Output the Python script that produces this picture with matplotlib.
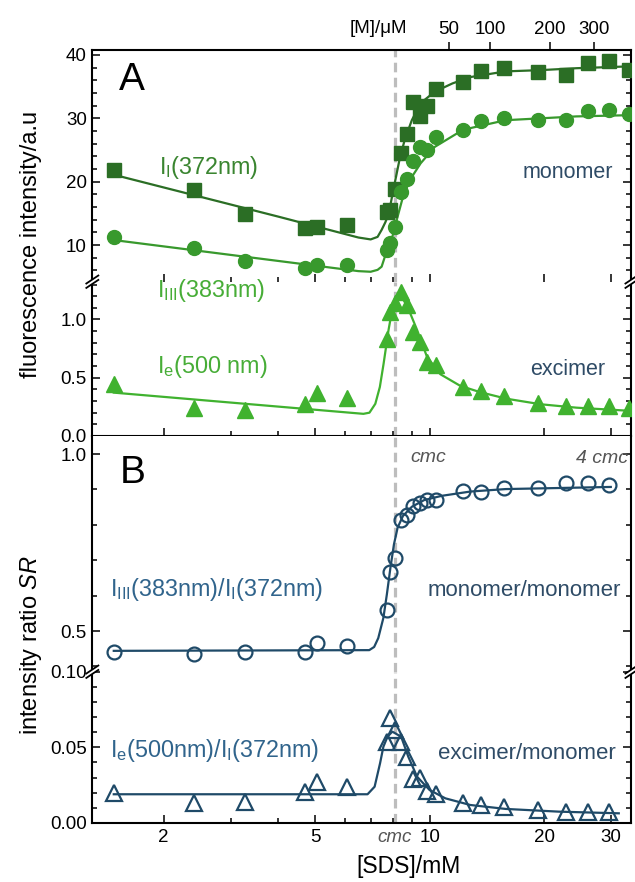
import matplotlib
matplotlib.use("Agg")
import matplotlib.pyplot as plt
from matplotlib.ticker import FixedLocator, LogLocator, MultipleLocator, NullFormatter, NullLocator
from matplotlib.lines import Line2D
from matplotlib.patches import Polygon

plt.rcParams['font.family'] = ['Liberation Sans', 'DejaVu Sans']
plt.rcParams['mathtext.fontset'] = 'custom'
plt.rcParams['mathtext.rm'] = 'Liberation Sans'
plt.rcParams['mathtext.it'] = 'Liberation Sans:italic'
plt.rcParams['mathtext.bf'] = 'Liberation Sans:bold'

# [SDS]/mM of every measurement
sds = [1.48, 2.41, 3.27, 4.72, 5.06, 6.07, 7.73, 7.88, 8.10, 8.42, 8.73, 9.07,
       9.45, 9.82, 10.42, 12.24, 13.62, 15.70, 19.32, 22.83, 26.11, 29.63, 33.5]

# panel A: fluorescence intensities (a.u.)
I1 = [21.8, 18.7, 14.9, 12.7, 12.8, 13.1, 15.3, 15.6, 18.8, 24.5, 27.6, 32.5,
      30.3, 32.0, 34.6, 35.8, 37.5, 37.9, 37.3, 36.9, 38.7, 39.0, 37.6]
I3 = [11.3, 9.5, 7.55, 6.34, 6.86, 6.86, 9.2, 10.3, 12.9, 18.3, 20.5, 23.2,
      25.5, 25.0, 27.1, 28.2, 29.6, 30.1, 29.7, 29.7, 31.1, 31.3, 30.6]
Ie = [0.443, 0.243, 0.221, 0.272, 0.372, 0.329, 0.836, 1.065, 1.14, 1.238, 1.12, 0.89,
      0.81, 0.635, 0.606, 0.42, 0.39, 0.347, 0.286, 0.258, 0.258, 0.258, 0.243]

# panel B: intensity ratios (first 22 concentrations)
r31 = [0.441, 0.436, 0.441, 0.441, 0.466, 0.459, 0.558, 0.668, 0.707, 0.814, 0.827,
       0.854, 0.863, 0.871, 0.871, 0.896, 0.893, 0.904, 0.904, 0.917, 0.917, 0.912]
re1 = [0.0196, 0.0130, 0.0137, 0.0207, 0.0269, 0.0240, 0.0537, 0.0692, 0.0615, 0.0537,
       0.0438, 0.0289, 0.0295, 0.0214, 0.0192, 0.0134, 0.0119, 0.0104, 0.0086, 0.0075,
       0.0075, 0.0075]

# fitted curves
fit1_x = [1.48, 4.0, 6.5, 7.0, 7.3, 7.48, 7.65, 7.81, 8.06, 8.33, 8.60, 8.98, 9.47,
          10.32, 11.48, 12.79, 15.84, 19.63, 24.3, 33.9]
fit1_y = [21.1, 14.5, 11.2, 10.9, 11.3, 12.4, 13.6, 15.0, 19.2, 23.4, 26.6, 29.7, 32.4,
          34.2, 35.5, 36.5, 37.4, 37.6, 37.9, 38.2]
fit3_x = [1.48, 6.5, 7.0, 7.3, 7.48, 7.68, 7.98, 8.24, 8.51, 8.88, 9.47, 10.32, 12.25,
          15.84, 24.3, 33.9]
fit3_y = [10.8, 5.9, 5.8, 6.1, 6.6, 8.7, 11.3, 14.5, 17.6, 20.3, 22.9, 25.5, 28.2,
          29.7, 30.3, 30.5]
fite_x = [1.48, 6.7, 6.95, 7.2, 7.4, 7.57, 7.8, 7.97, 8.15, 8.38, 8.6, 8.9, 9.27, 9.84,
          10.67, 12.04, 13.58, 15.9, 19.6, 24.3, 33.9]
fite_y = [0.372, 0.19, 0.20, 0.276, 0.42, 0.62, 0.91, 1.08, 1.17, 1.21, 1.15, 1.05, 0.91,
          0.68, 0.53, 0.43, 0.376, 0.32, 0.272, 0.243, 0.215]
fitr31_x = [1.48, 6.94, 7.15, 7.33, 7.56, 7.72, 7.89, 8.06, 8.24, 8.51, 8.98, 9.68,
            10.77, 12.79, 15.84, 21.85, 29.92]
fitr31_y = [0.444, 0.446, 0.455, 0.48, 0.537, 0.603, 0.679, 0.745, 0.792, 0.825, 0.851,
            0.87, 0.882, 0.894, 0.901, 0.904, 0.907]
fitre1_x = [1.48, 6.87, 7.17, 7.41, 7.56, 7.75, 7.98, 8.42, 8.79, 9.27, 10.0, 11.0,
            12.79, 15.84, 21.85, 31.4]
fitre1_y = [0.019, 0.019, 0.024, 0.0395, 0.0504, 0.057, 0.0604, 0.057, 0.0438, 0.0306,
            0.0218, 0.0163, 0.0119, 0.0093, 0.0075, 0.0064]

cmc = 8.1            # mM
mM_per_uM = 0.063    # [SDS] step per uM micelles
M_ticks = [50, 100, 200, 300]
sds_ticks = [2, 5, 10, 20, 30]

c_sq = '#2b6e25'
c_ci = '#38992d'
c_tr = '#40b22f'
c_bl = '#1f4a68'
c_txt = '#2e4b66'
c_cmc = '#555555'

fig = plt.figure(figsize=(6.35, 8.82), dpi=100)
L, W = 0.1454, 0.849
axA1 = fig.add_axes([L, 0.6806, W, 0.2627])
axA2 = fig.add_axes([L, 0.5057, W, 0.1749])
axB1 = fig.add_axes([L, 0.2384, W, 0.2673])
axB2 = fig.add_axes([L, 0.0669, W, 0.1715])

for ax in (axA1, axA2, axB1, axB2):
    ax.set_xscale('log')
    ax.set_xlim(1.30, 33.9)
    ax.xaxis.set_major_locator(FixedLocator(sds_ticks))
    ax.xaxis.set_minor_locator(LogLocator(base=10, subs=range(2, 10)))
    ax.xaxis.set_major_formatter(NullFormatter())
    ax.xaxis.set_minor_formatter(NullFormatter())
    ax.tick_params(which='both', direction='in', width=1.1, left=True, right=True,
                   top=False, bottom=False, labelsize=13.5, pad=4)
    ax.tick_params(which='major', length=6)
    ax.tick_params(which='minor', length=3.5)
    for s in ax.spines.values():
        s.set_linewidth(1.5)
    ax.axvline(cmc, color='#bdbdbd', lw=2.3, ls=(0, (3, 1.7)), zorder=0)

axA1.spines['bottom'].set_visible(False)
axA1.tick_params(axis='x', which='both', top=True)
axA2.spines['top'].set_visible(False)
axA2.tick_params(axis='x', which='both', bottom=True)
axB1.spines['top'].set_visible(False)
axB1.spines['bottom'].set_visible(False)
axB2.spines['top'].set_visible(False)
axB2.tick_params(axis='x', which='both', bottom=True)

axA1.set_ylim(4.23, 40.77)
axA1.yaxis.set_major_locator(MultipleLocator(10))
axA1.yaxis.set_minor_locator(MultipleLocator(2))
axA2.set_ylim(0, 1.324)
axA2.yaxis.set_minor_locator(MultipleLocator(0.1))
axA2.set_yticks([0, 0.5, 1.0], ['0.0', '0.5', '1.0'])
axB1.set_ylim(0.385, 1.051)
axB1.set_yticks([0.5, 1.0], ['0.5', '1.0'])
axB1.yaxis.set_minor_locator(MultipleLocator(0.1))
axB2.set_ylim(0, 0.10)
axB2.set_yticks([0, 0.05, 0.10], ['0.00', '0.05', '0.10'])
axB2.yaxis.set_minor_locator(MultipleLocator(0.01))

# bottom tick labels
axB2.set_xticks(sds_ticks, [str(t) for t in sds_ticks])
axB2.annotate('cmc', xy=(cmc, 0), xycoords=('data', 'axes fraction'), xytext=(0, -4),
              textcoords='offset points', ha='center', va='top', fontsize=13.5,
              style='italic', color=c_cmc)

# micelle concentration axis on top
top = axA1.twiny()
top.set_xscale('log')
top.set_xlim(axA1.get_xlim())
top.set_xticks([cmc + m * mM_per_uM for m in M_ticks], [str(m) for m in M_ticks])
top.xaxis.set_minor_locator(NullLocator())
top.tick_params(axis='x', direction='out', length=6, width=1.1, labelsize=13.5, pad=3)
for s in top.spines.values():
    s.set_visible(False)
top.annotate('[M]/\u03bcM', xy=(7.33, 1), xycoords=('data', 'axes fraction'),
             xytext=(0, 15.8), textcoords='offset points', ha='center', va='center',
             fontsize=13.5)

# panel A
axA1.plot(fit1_x, fit1_y, color=c_sq, lw=1.6, zorder=2)
axA1.plot(sds, I1, 's', color=c_sq, ms=9.5, zorder=3)
axA1.plot(fit3_x, fit3_y, color=c_ci, lw=1.6, zorder=2)
axA1.plot(sds, I3, 'o', color=c_ci, ms=10, zorder=3)
axA2.plot(fite_x, fite_y, color=c_tr, lw=1.6, zorder=2)
axA2.plot(sds, Ie, '^', color=c_tr, ms=11, zorder=3)

# panel B
axB1.plot(fitr31_x, fitr31_y, color=c_bl, lw=1.6, zorder=2)
axB1.plot(sds[:len(r31)], r31, 'o', mfc='none', mec=c_bl, mew=1.6, ms=10, zorder=3)
axB2.plot(fitre1_x, fitre1_y, color=c_bl, lw=1.6, zorder=2)
axB2.plot(sds[:len(re1)], re1, '^', mfc='none', mec=c_bl, mew=1.6, ms=11.5, zorder=3)

# annotations
fs = 15.5
fsl = 16.8
axA1.text(1.524, 34.5, 'A', fontsize=28, va='baseline')
axB1.text(1.53, 0.917, 'B', fontsize=28, va='baseline')
axA1.text(1.94, 21.2, r'I$_{\rm I}$(372nm)', color='#3a8530', fontsize=fsl, va='baseline')
axA2.text(1.92, 1.197, r'I$_{\rm III}$(383nm)', color='#47ad37', fontsize=fsl, va='baseline')
axA2.text(1.92, 0.541, r'I$_{\rm e}$(500 nm)', color='#47ad37', fontsize=fsl, va='baseline')
axA1.text(23.05, 20.66, 'monomer', color=c_txt, fontsize=fs, ha='center', va='baseline')
axA2.text(23.1, 0.527, 'excimer', color=c_txt, fontsize=fs, ha='center', va='baseline')
axB1.text(9.89, 0.977, 'cmc', color=c_cmc, fontsize=14, style='italic', ha='center',
          va='baseline')
axB1.text(33.2, 0.975, '4 cmc', color=c_cmc, fontsize=14, style='italic', ha='right',
          va='baseline')
axB1.text(1.451, 0.600, r'I$_{\rm III}$(383nm)/I$_{\rm I}$(372nm)', color='#30648c',
          fontsize=fsl, va='baseline')
axB1.text(17.73, 0.600, 'monomer/monomer', color=c_txt, fontsize=16, ha='center',
          va='baseline')
axB2.text(1.451, 0.0433, r'I$_{\rm e}$(500nm)/I$_{\rm I}$(372nm)', color='#30648c',
          fontsize=fsl, va='baseline')
axB2.text(17.99, 0.0423, 'excimer/monomer', color=c_txt, fontsize=16, ha='center',
          va='baseline')

fig.text(31 / 635, 1 - 244 / 882, 'fluorescence intensity/a.u', rotation=90,
         ha='center', va='center', fontsize=17)
fig.text(31 / 635, 1 - 645 / 882, r'intensity ratio $SR$', rotation=90,
         ha='center', va='center', fontsize=17)
fig.text(408 / 635, 1 - 866 / 882, '[SDS]/mM', ha='center', va='center', fontsize=16.5)


def break_marks(ax_low):
    pos = ax_low.get_position()
    yb = pos.y1
    dx, dy, g = 6 / 635, 4 / 882, 2.2 / 882
    for xs in (pos.x0, pos.x1):
        fig.add_artist(Polygon([(xs - dx, yb - dy - g), (xs + dx, yb + dy - g),
                                (xs + dx, yb + dy + g), (xs - dx, yb - dy + g)],
                               closed=True, facecolor='white', edgecolor='none',
                               transform=fig.transFigure, zorder=10))
        for off in (-g, g):
            fig.add_artist(Line2D([xs - dx, xs + dx], [yb - dy + off, yb + dy + off],
                                  color='black', lw=1.3, transform=fig.transFigure,
                                  zorder=11))


break_marks(axA2)
break_marks(axB2)

fig.savefig('out.png', dpi=100)
